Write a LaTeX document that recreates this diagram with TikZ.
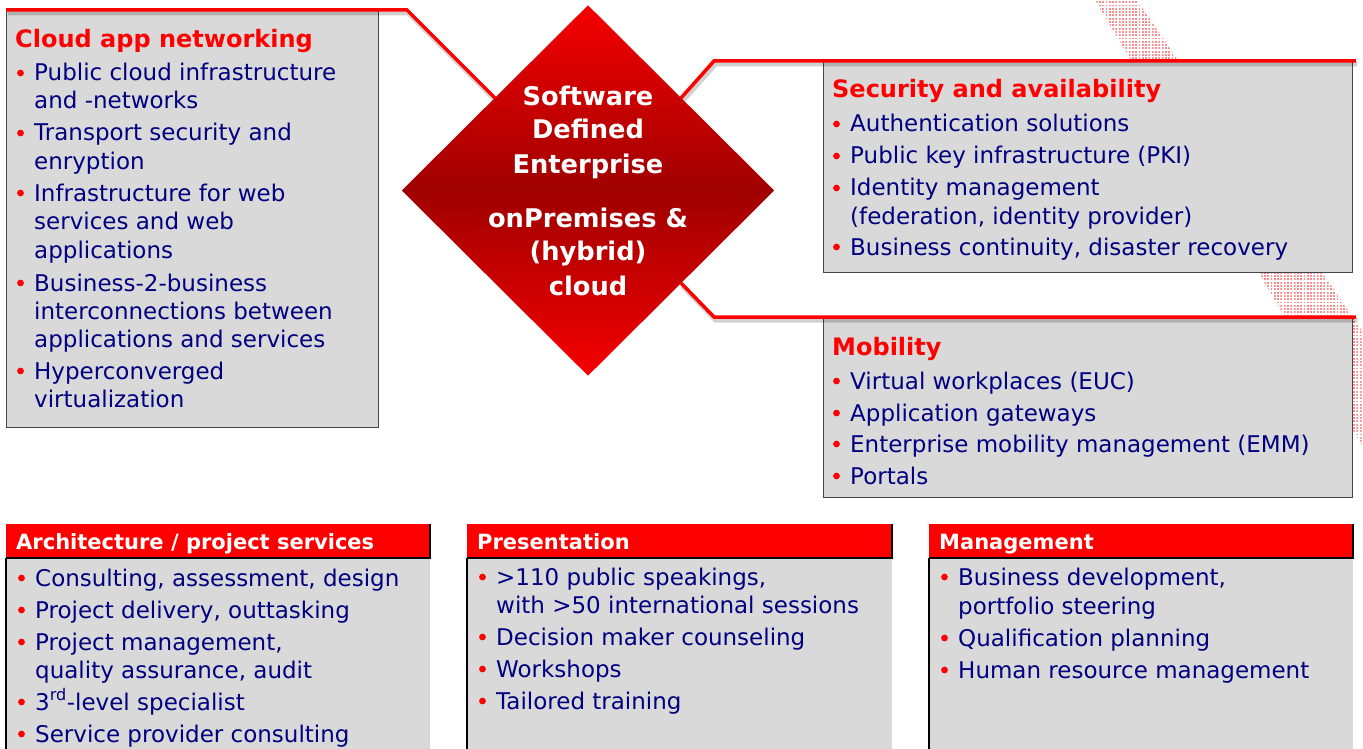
\documentclass[tikz,border=0pt]{standalone}
\usepackage{fontspec}
\setmainfont{DejaVu Sans}
\usetikzlibrary{shapes.geometric,patterns,calc}
\definecolor{boxgray}{RGB}{217,217,217}
\definecolor{navytxt}{RGB}{0,0,128}
\definecolor{hred}{RGB}{255,0,0}
\definecolor{bordergray}{RGB}{70,70,70}
\definecolor{dtop}{RGB}{245,0,0}
\definecolor{dmid}{RGB}{160,0,0}
\definecolor{hatch}{RGB}{255,140,140}
\pgfdeclarepatternformonly{hdots}{\pgfqpoint{0pt}{0pt}}{\pgfqpoint{2pt}{2pt}}{\pgfqpoint{3.3pt}{3.3pt}}{%
  \pgfpathrectangle{\pgfqpoint{0pt}{0pt}}{\pgfqpoint{1.9pt}{1.9pt}}\pgfusepath{fill}}
\newcommand\bul[4]{\fill[hred] ({#2-13.5},{#3-8}) circle (3.4);
  \node[txt] (#1) at (#2,#3) {#4};}
\begin{document}
\begin{tikzpicture}[x=1pt,y=-1pt,
  txt/.style={anchor=base west, inner sep=0, text=navytxt, font=\fontsize{23}{28}\selectfont},
  hdr/.style={anchor=base west, inner sep=0, text=hred, font=\fontsize{24}{29}\selectfont\bfseries},
  bhdr/.style={anchor=base west, inner sep=0, text=white, font=\fontsize{21}{25}\selectfont\bfseries},
  dtxt/.style={anchor=base, inner sep=0, text=white, font=\fontsize{25.7}{30}\selectfont\bfseries},
  box/.style={rectangle, fill=boxgray, draw=bordergray, line width=0.8pt, anchor=north west, inner sep=0},
  redhead/.style={rectangle, fill=hred, anchor=north west, inner sep=0, minimum height=34pt},
  body/.style={rectangle, fill=boxgray, anchor=north west, inner sep=0, minimum height=191pt},
  redline/.style={draw=hred, line width=3.5pt, line join=miter},
  lineshadow/.style={draw=black, opacity=0.18, line width=5pt, transform canvas={shift={(1.5pt,-3pt)}}}
]
\useasboundingbox (0,0) rectangle (1363,749);
% hatched band
\begin{scope}
\clip (0,0) rectangle (1363,749);
\fill[pattern=hdots, pattern color=hatch] (1095,0) -- (1137,0) -- (1420,416) -- (1420,542) -- cycle;
\end{scope}

% upper boxes
\node[box, minimum width=372pt, minimum height=417pt] (cloud) at (6,10) {};
\node[box, minimum width=529pt, minimum height=211pt] (sec) at (823,61) {};
\node[box, minimum width=529pt, minimum height=180pt] (mob) at (823,317) {};

% diamond
\node[diamond, minimum width=372pt, minimum height=370pt, inner sep=0pt] (dia) at (588,190.5) {};
\coordinate (dnw) at ($(dia.north)!0.5!(dia.west)$);
\coordinate (dne) at ($(dia.north)!0.5!(dia.east)$);
\coordinate (dse) at ($(dia.south)!0.5!(dia.east)$);
\coordinate (b1) at (407,10);
\coordinate (b2) at (714,61);
\coordinate (b3) at (714,317);
\coordinate (secend) at ($(sec.north east)+(3,0)$);
\coordinate (mobend) at ($(mob.north east)+(3,0)$);

% connectors
\draw[lineshadow] (cloud.north west) -- (b1) -- (dnw);
\draw[lineshadow] (dne) -- (b2) -- (secend);
\draw[lineshadow] (dse) -- (b3) -- (mobend);
\draw[redline] (cloud.north west) -- (b1) -- (dnw);
\draw[redline] (dne) -- (b2) -- (secend);
\draw[redline] (dse) -- (b3) -- (mobend);

\shade[top color=dtop, bottom color=dtop, middle color=dmid] (dia.north) -- (dia.east) -- (dia.south) -- (dia.west) -- cycle;
\node[dtxt] (d1) at (588,106) {Software};
\node[dtxt] (d2) at (588,139) {Defined};
\node[dtxt] (d3) at (588,174) {Enterprise};
\node[dtxt] (d4) at (588,227) {onPremises \&};
\node[dtxt] (d5) at (588,260) {(hybrid)};
\node[dtxt] (d6) at (588,295) {cloud};

% cloud app networking
\node[hdr] (cloudh) at (15,48) {Cloud app networking};
\bul{c1}{34}{81}{Public cloud infrastructure}
\node[txt] (c1b) at (34,109) {and -networks};
\bul{c2}{34}{141}{Transport security and}
\node[txt] (c2b) at (34,169) {enryption};
\bul{c3}{34}{201}{Infrastructure for web}
\node[txt] (c3b) at (34,229) {services and web};
\node[txt] (c3c) at (34,258) {applications};
\bul{c4}{34}{291}{Business-2-business}
\node[txt] (c4b) at (34,319) {interconnections between};
\node[txt] (c4c) at (34,347) {applications and services};
\bul{c5}{34}{379}{Hyperconverged}
\node[txt] (c5b) at (34,407) {virtualization};

% security
\node[hdr] (sech) at (832,98) {Security and availability};
\bul{s1}{850}{132}{Authentication solutions}
\bul{s2}{850}{164}{Public key infrastructure (PKI)}
\bul{s3}{850}{196}{Identity management}
\node[txt] (s3b) at (850,224) {(federation, identity provider)};
\bul{s4}{850}{255}{Business continuity, disaster recovery}

% mobility
\node[hdr] (mobh) at (832,355) {Mobility};
\bul{m1}{850}{389}{Virtual workplaces (EUC)}
\bul{m2}{850}{421}{Application gateways}
\bul{m3}{850}{452}{Enterprise mobility management (EMM)}
\bul{m4}{850}{484}{Portals}

% bottom boxes
\node[body, minimum width=424pt] (archb) at (6,558) {};
\node[body, minimum width=425pt] (presb) at (467,558) {};
\node[body, minimum width=424pt] (mgmtb) at (929,558) {};
\node[redhead, minimum width=424pt] (archh) at (6,524) {};
\node[redhead, minimum width=425pt] (presh) at (467,524) {};
\node[redhead, minimum width=424pt] (mgmth) at (929,524) {};
\foreach \b in {arch,pres,mgmt}{
  \draw[black, line width=2pt] (\b h.north east) -- (\b h.south east) -- (\b h.south west);
  \draw[black, line width=2pt] (\b b.north west) -- (\b b.south west);
}
\node[bhdr] (archt) at (16,549) {Architecture / project services};
\node[bhdr] (prest) at (477,549) {Presentation};
\node[bhdr] (mgmtt) at (939,549) {Management};

\bul{a1}{35}{586}{Consulting, assessment, design}
\bul{a2}{35}{618}{Project delivery, outtasking}
\bul{a3}{35}{650}{Project management,}
\node[txt] (a3b) at (35,678) {quality assurance, audit};
\bul{a4}{35}{710}{3\textsuperscript{rd}-level specialist}
\bul{a5}{35}{742}{Service provider consulting}

\bul{p1}{496}{585}{>110 public speakings,}
\node[txt] (p1b) at (496,613) {with >50 international sessions};
\bul{p2}{496}{645}{Decision maker counseling}
\bul{p3}{496}{677}{Workshops}
\bul{p4}{496}{709}{Tailored training}

\bul{g1}{958}{585}{Business development,}
\node[txt] (g1b) at (958,614) {portfolio steering};
\bul{g2}{958}{646}{Qualification planning}
\bul{g3}{958}{678}{Human resource management}
\end{tikzpicture}
\end{document}
